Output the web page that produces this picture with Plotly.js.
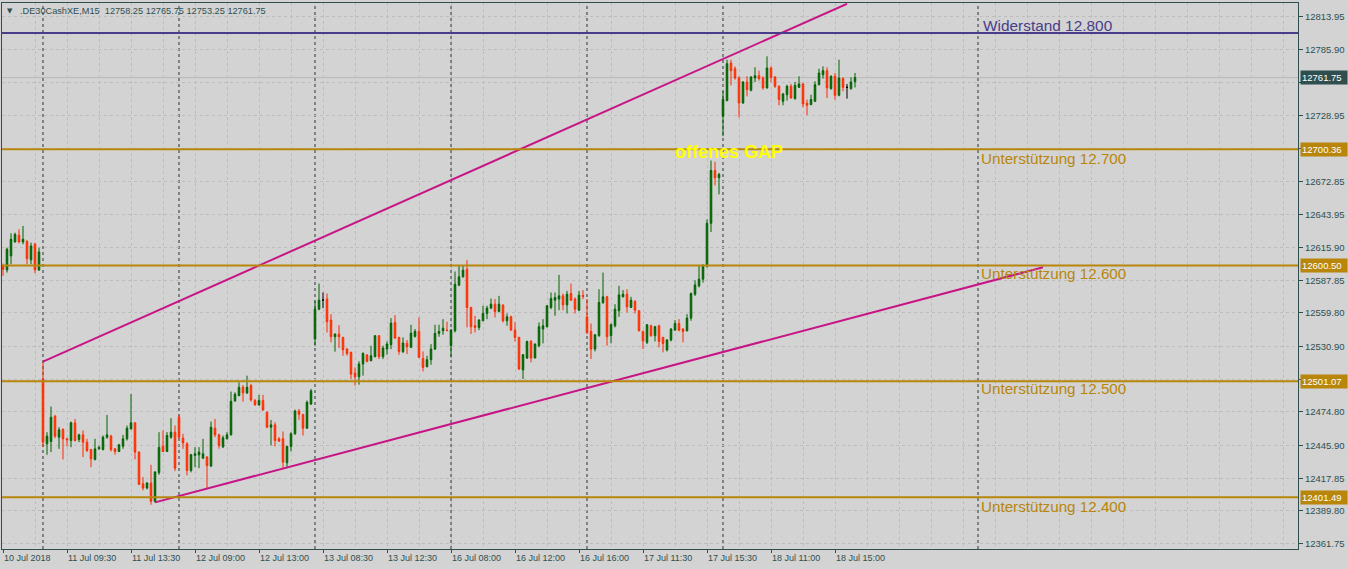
<!DOCTYPE html>
<html><head><meta charset="utf-8">
<script src="https://cdn.plot.ly/plotly-3.0.1.min.js"></script>
<style>html,body{margin:0;padding:0;background:#d3d3d3;}#chart{width:1348px;height:569px;}</style>
</head><body><div id="chart"></div>
<script>
// ---- candle data (M15 bars, index 0 = 10 Jul 14:00) ----
const openP = [12600.1,12596.7,12608.7,12620.7,12626.4,12620.7,12621.0,12605.3,12618.7,12596.7,
12502.5,12447.4,12449.4,12471.1,12453.1,12459.7,12451.7,12450.2,12465.4,12451.1,
12455.1,12448.8,12442.5,12434.0,12443.1,12442.5,12453.1,12454.0,12443.1,12440.8,
12445.4,12451.7,12460.2,12465.4,12440.3,12413.1,12409.4,12413.7,12398.0,12422.6,
12445.4,12440.8,12453.1,12457.4,12470.2,12452.2,12447.4,12424.5,12437.4,12437.9,
12435.1,12436.0,12428.3,12460.8,12455.1,12444.8,12451.7,12455.1,12484.2,12488.8,
12495.9,12491.1,12497.4,12484.5,12480.8,12484.5,12474.5,12461.7,12463.7,12451.7,
12451.7,12431.1,12445.1,12456.0,12475.6,12472.5,12460.8,12481.6,12537.3,12563.0,
12570.7,12571.6,12553.6,12539.3,12541.6,12538.7,12528.7,12525.9,12508.2,12505.0,
12515.9,12523.6,12518.8,12522.2,12540.2,12522.2,12528.7,12532.5,12551.6,12538.7,
12526.5,12533.6,12530.2,12539.6,12543.9,12520.7,12513.6,12519.6,12528.7,12542.2,
12544.4,12545.0,12531.6,12544.4,12583.6,12590.7,12597.3,12564.4,12548.7,12547.3,
12553.0,12559.3,12563.9,12567.3,12561.0,12566.4,12553.0,12556.4,12545.0,12538.7,
12510.8,12521.0,12535.3,12521.0,12531.6,12545.9,12547.9,12564.4,12570.7,12571.6,
12574.4,12566.7,12576.4,12571.6,12562.1,12574.7,12556.4,12543.9,12528.7,12540.2,
12568.7,12573.6,12540.2,12548.7,12561.6,12573.6,12575.8,12564.4,12569.6,12561.6,
12543.9,12534.5,12548.7,12540.2,12548.7,12538.7,12527.9,12536.5,12545.0,12550.7,
12545.9,12544.4,12555.3,12575.8,12583.0,12588.7,12600.1,12636.7,12682.0,12675.8,
12728.6,12742.0,12774.3,12769.4,12761.4,12740.0,12758.0,12750.9,12761.4,12763.4,
12761.4,12752.9,12770.0,12762.3,12754.3,12741.4,12747.1,12754.3,12743.7,12753.4,
12756.3,12739.7,12738.6,12741.4,12755.7,12764.3,12767.7,12752.3,12762.9,12746.6,
12760.9,12753.4,12752.3,12758.25];
const highP = [12602.1,12615.8,12628.1,12628.7,12631.5,12634.4,12622.4,12620.1,12620.1,12615.8,
12517.9,12457.4,12479.4,12472.2,12461.7,12460.8,12452.5,12466.5,12468.8,12456.0,
12458.8,12451.7,12443.1,12451.7,12445.9,12454.5,12472.2,12455.1,12443.7,12447.4,
12455.1,12463.1,12490.2,12465.9,12440.8,12418.8,12414.6,12429.4,12424.0,12457.4,
12458.8,12457.4,12469.4,12463.1,12472.2,12456.0,12448.8,12438.8,12444.5,12444.5,
12451.7,12436.9,12466.5,12468.8,12456.0,12454.5,12457.4,12492.2,12491.6,12500.2,
12497.9,12505.9,12498.8,12485.9,12489.4,12489.4,12475.1,12467.9,12465.9,12453.1,
12458.0,12445.9,12457.4,12476.7,12477.3,12473.1,12484.5,12494.5,12570.1,12585.0,
12577.3,12576.4,12558.7,12542.2,12549.3,12539.3,12529.6,12526.5,12513.0,12518.2,
12525.9,12524.4,12531.6,12540.7,12540.7,12531.6,12535.3,12555.3,12557.9,12539.3,
12538.7,12536.5,12549.6,12545.9,12555.9,12526.7,12523.0,12533.0,12549.6,12549.6,
12554.4,12552.2,12545.9,12595.3,12600.1,12600.1,12605.0,12565.0,12557.3,12554.4,
12565.9,12565.9,12572.1,12571.6,12574.4,12567.3,12559.3,12557.3,12551.6,12539.3,
12524.4,12535.9,12536.5,12533.6,12551.6,12554.4,12566.4,12577.3,12577.3,12592.4,
12576.4,12578.7,12585.0,12573.0,12578.7,12579.3,12571.6,12550.7,12541.6,12580.1,
12594.4,12574.4,12550.7,12567.3,12583.0,12579.3,12580.1,12573.6,12570.7,12562.1,
12544.4,12550.2,12549.6,12548.7,12549.6,12539.3,12537.3,12546.7,12553.6,12554.4,
12546.7,12558.7,12577.3,12587.8,12600.1,12601.6,12640.1,12690.6,12689.5,12680.0,
12750.0,12777.1,12777.1,12771.4,12762.9,12758.6,12762.9,12762.9,12770.6,12767.7,
12762.9,12780.0,12771.4,12762.9,12755.1,12748.6,12755.7,12756.3,12758.0,12762.9,
12757.1,12742.9,12747.1,12758.6,12769.4,12771.4,12770.6,12763.7,12765.7,12777.1,
12762.0,12756.3,12762.0,12765.75];
const lowP = [12591.6,12594.4,12601.6,12620.1,12619.5,12618.7,12601.6,12601.6,12593.9,12595.8,
12444.5,12438.0,12440.3,12452.2,12443.1,12434.0,12445.1,12444.5,12449.4,12448.8,
12436.0,12440.3,12427.4,12433.1,12442.5,12441.7,12451.7,12440.8,12438.0,12440.3,
12443.1,12450.2,12459.7,12434.0,12412.0,12407.4,12408.3,12395.1,12396.9,12420.8,
12440.3,12440.3,12451.7,12424.0,12451.7,12443.1,12420.3,12422.9,12427.4,12426.5,
12434.5,12409.4,12427.4,12453.1,12443.1,12443.7,12451.1,12454.5,12483.6,12488.2,
12483.6,12490.2,12483.6,12480.2,12480.2,12475.9,12460.8,12445.9,12445.1,12449.1,
12426.5,12426.5,12440.8,12455.1,12467.9,12454.5,12460.2,12480.8,12531.6,12562.1,
12563.9,12543.0,12534.5,12526.5,12529.6,12523.0,12523.0,12503.0,12497.3,12498.2,
12505.9,12517.3,12518.2,12521.6,12520.2,12520.2,12523.9,12528.7,12537.3,12523.9,
12525.3,12524.4,12529.6,12538.7,12521.0,12509.6,12513.0,12515.3,12527.9,12539.3,
12541.0,12543.9,12521.6,12543.0,12582.7,12590.1,12547.3,12541.6,12543.0,12545.0,
12553.0,12554.4,12563.0,12555.9,12560.1,12551.6,12548.7,12544.4,12535.3,12510.8,
12503.0,12520.2,12517.3,12521.0,12530.2,12533.6,12547.3,12563.0,12557.3,12562.1,
12562.1,12559.3,12570.1,12559.3,12561.6,12571.6,12541.6,12520.2,12526.7,12539.3,
12567.3,12531.6,12533.6,12547.3,12556.4,12573.0,12560.1,12564.0,12559.3,12543.9,
12528.7,12533.0,12539.3,12535.3,12530.2,12525.9,12526.7,12535.3,12544.4,12543.9,
12534.5,12543.9,12553.0,12574.4,12581.6,12585.8,12598.7,12629.2,12669.2,12661.5,
12711.5,12741.4,12755.1,12760.0,12727.7,12739.2,12745.7,12750.0,12758.0,12759.2,
12751.4,12752.3,12758.0,12752.9,12738.0,12738.0,12742.0,12743.7,12742.9,12752.9,
12736.3,12729.5,12738.0,12740.8,12755.1,12760.9,12744.3,12751.4,12742.9,12745.7,
12750.0,12743.7,12751.4,12753.25];
const closeP = [12597.3,12614.4,12623.0,12627.2,12620.7,12623.0,12606.4,12617.3,12596.7,12612.1,
12448.8,12454.0,12470.2,12454.0,12459.4,12451.7,12450.9,12465.4,12450.2,12455.1,
12448.8,12441.7,12434.5,12443.1,12444.3,12453.1,12455.1,12442.5,12440.8,12446.5,
12451.7,12460.8,12465.4,12440.3,12412.6,12409.4,12413.7,12398.0,12423.1,12444.3,
12440.8,12454.5,12457.4,12426.5,12453.1,12448.2,12424.5,12438.0,12438.8,12440.3,
12438.8,12428.8,12461.7,12455.1,12445.9,12452.5,12455.1,12483.9,12489.9,12495.9,
12491.1,12495.9,12485.1,12480.8,12484.5,12476.5,12461.7,12463.7,12450.2,12449.7,
12431.7,12445.1,12456.0,12475.6,12472.8,12460.8,12483.1,12492.8,12563.0,12570.7,
12570.7,12552.2,12539.3,12541.6,12539.3,12528.2,12525.0,12507.3,12505.0,12515.9,
12525.0,12518.2,12523.0,12540.2,12522.2,12529.6,12533.0,12551.0,12538.2,12526.7,
12533.9,12530.7,12542.4,12543.9,12521.6,12513.0,12519.6,12528.7,12542.2,12543.9,
12546.7,12544.7,12545.0,12584.4,12590.7,12596.4,12564.4,12547.9,12547.3,12553.6,
12559.3,12563.9,12567.3,12561.0,12567.3,12553.0,12556.4,12545.0,12538.7,12511.6,
12523.9,12535.3,12521.0,12533.0,12547.9,12548.7,12565.9,12572.1,12573.0,12574.4,
12566.7,12575.8,12570.7,12563.0,12575.0,12574.1,12543.0,12528.7,12541.0,12568.7,
12573.6,12539.3,12549.6,12563.0,12575.3,12575.8,12565.0,12570.7,12562.1,12544.4,
12535.9,12549.6,12540.2,12547.9,12535.3,12533.6,12536.5,12545.9,12550.7,12545.0,
12543.9,12555.3,12576.4,12583.8,12588.7,12600.1,12636.7,12682.0,12675.8,12678.6,
12742.9,12773.7,12767.7,12761.4,12740.0,12758.0,12751.4,12762.3,12763.4,12760.9,
12752.9,12770.0,12762.0,12754.3,12742.9,12747.7,12754.3,12744.3,12755.1,12756.3,
12739.2,12738.0,12742.9,12755.7,12765.7,12767.7,12752.9,12762.9,12746.6,12761.4,
12753.4,12753.4,12758.0,12761.75];

// ---- axis labels ----
const xTickBars = [0,16,32,48,64,80,96,112,128,144,160,176,192,208];
const xTickLabels = ["10 Jul 2018","11 Jul 09:30","11 Jul 13:30","12 Jul 09:00","12 Jul 13:00","13 Jul 08:30","13 Jul 12:30","16 Jul 08:00","16 Jul 12:00","16 Jul 16:00","17 Jul 11:30","17 Jul 15:30","18 Jul 11:00","18 Jul 15:00"];
const yTickVals = [12813.95,12785.90,12757.85,12728.95,12700.90,12672.85,12643.95,12615.90,12587.85,12559.80,12530.90,12502.85,12474.80,12445.90,12417.85,12389.80,12361.75];
// labels hidden behind the price boxes on the right
const yTickHidden = [12757.85,12700.90,12502.85];
const separatorBars = [10,44,78,112,146,180,243.75];

// ---- drawn objects ----
const resistanceLevel = 12800;
const supportLevels = [12700.36,12600.50,12501.07,12401.49];
const bidPrice = 12761.75;
const upperTrendBars = [10,211];
const upperTrendPrices = [12517.9,12825.1];
const lowerTrendBars = [38,260];
const lowerTrendPrices = [12397.1,12598.95];
const levelTexts = ["Unterstützung 12.700","Unterstützung 12.600","Unterstützung 12.500","Unterstützung 12.400"];
const levelTextPrices = [12691.9,12594.0,12494.5,12394.0];
const resistanceText = "Widerstand 12.800";
const resistanceTextPrice = 12806.1;
const gapText = "offenes GAP";
const gapTextPrice = 12697.9;
const gapTextBar = 167.5;
const headerText = ".DE30CashXE,M15  12758.25 12765.75 12753.25 12761.75";

const BG = '#d3d3d3', AX = '#2f4f4f', GOLD = '#b8860b', GRID = '#bdbdbd';
const FONT = 'Liberation Sans, Arial, sans-serif';

const idx = openP.map((_, i) => i);
const reg = idx.filter(i => openP[i] !== closeP[i]);
const doj = idx.filter(i => openP[i] === closeP[i]);
const pick = (arr, sel) => sel.map(i => arr[i]);

const traces = [
  {type:'candlestick', x: reg, open: pick(openP,reg), high: pick(highP,reg), low: pick(lowP,reg), close: pick(closeP,reg),
   increasing:{line:{color:'#006400',width:1}, fillcolor:'#006400'},
   decreasing:{line:{color:'#ff2a00',width:1}, fillcolor:'#ff4500'},
   whiskerwidth:0, hoverinfo:'skip', showlegend:false},
  {type:'candlestick', x: doj, open: pick(openP,doj), high: pick(highP,doj), low: pick(lowP,doj), close: pick(closeP,doj),
   increasing:{line:{color:'#000000',width:1}, fillcolor:'#000000'},
   decreasing:{line:{color:'#000000',width:1}, fillcolor:'#000000'},
   whiskerwidth:0, hoverinfo:'skip', showlegend:false},
  {type:'scatter', mode:'lines', x: upperTrendBars, y: upperTrendPrices, line:{color:'#c71585', width:2}, hoverinfo:'skip', showlegend:false},
  {type:'scatter', mode:'lines', x: lowerTrendBars, y: lowerTrendPrices, line:{color:'#c71585', width:2}, hoverinfo:'skip', showlegend:false}
];

const shapes = [];
separatorBars.forEach(b => shapes.push({type:'line', xref:'x', yref:'paper', x0:b, x1:b, y0:0, y1:1, layer:'below', line:{color:'#253535', width:1, dash:'3px,3px'}}));
shapes.push({type:'line', xref:'paper', yref:'y', x0:0, x1:1, y0:bidPrice, y1:bidPrice, layer:'below', line:{color:'#bababa', width:1}});
shapes.push({type:'line', xref:'paper', yref:'y', x0:0, x1:1, y0:resistanceLevel, y1:resistanceLevel, layer:'above', line:{color:'#483d8b', width:2}});
supportLevels.forEach(p => shapes.push({type:'line', xref:'paper', yref:'y', x0:0, x1:1, y0:p, y1:p, layer:'above', line:{color:GOLD, width:2}}));

const annotations = [];
const priceBox = (p, bg) => ({xref:'paper', yref:'y', x:1, y:p, xanchor:'left', yanchor:'middle', xshift:2, showarrow:false,
  text:p.toFixed(2), font:{family:FONT, size:9.5, color:'#ffffff'}, bgcolor:bg, borderpad:1, width:44, align:'left'});
supportLevels.forEach(p => annotations.push(priceBox(p, GOLD)));
annotations.push(priceBox(bidPrice, AX));
levelTexts.forEach((t, k) => annotations.push({xref:'paper', yref:'y', x:(979-2)/1296, y:levelTextPrices[k], xanchor:'left', yanchor:'middle', showarrow:false,
  text:t, font:{family:FONT, size:15.2, color:GOLD}}));
annotations.push({xref:'paper', yref:'y', x:(981-2)/1296, y:resistanceTextPrice, xanchor:'left', yanchor:'middle', showarrow:false,
  text:resistanceText, font:{family:FONT, size:15.4, color:'#483d8b'}});
annotations.push({xref:'x', yref:'y', x:gapTextBar, y:gapTextPrice, xanchor:'left', yanchor:'middle', showarrow:false,
  text:'<b>'+gapText+'</b>', font:{family:FONT, size:18, color:'#ffff00'}});
annotations.push({xref:'paper', yref:'paper', x:(18-2)/1296, y:1-8/546, xanchor:'left', yanchor:'middle', showarrow:false,
  text:headerText, font:{family:FONT, size:9.2, color:AX}});
annotations.push({xref:'paper', yref:'paper', x:(9.5-2)/1296, y:1-8/546, xanchor:'center', yanchor:'middle', showarrow:false,
  text:'▼', font:{family:'DejaVu Sans', size:7, color:AX}});

const layout = {
  width:1348, height:569,
  margin:{l:2, r:50, t:3, b:20, pad:0},
  paper_bgcolor:BG, plot_bgcolor:BG,
  font:{family:FONT, size:9, color:AX},
  showlegend:false,
  xaxis:{range:[-0.25, 323.75], rangeslider:{visible:false}, tickmode:'array', tickvals:xTickBars, ticktext:xTickLabels,
    ticks:'outside', ticklen:3, tickcolor:AX, ticklabelposition:'outside right',
    showgrid:true, gridcolor:GRID, griddash:'3px,3px', gridwidth:1,
    minor:{dtick:8, tick0:0, showgrid:true, gridcolor:GRID, griddash:'3px,3px', ticks:''},
    showline:true, linecolor:AX, linewidth:1, mirror:true, zeroline:false, fixedrange:true,
    tickfont:{family:FONT, size:9, color:AX}},
  yaxis:{range:[12357.1, 12825.8], side:'right', tickmode:'array', tickvals:yTickVals,
    ticktext:yTickVals.map(v => yTickHidden.includes(v) ? '' : v.toFixed(2)),
    ticks:'outside', ticklen:4, tickcolor:AX, showgrid:true, gridcolor:GRID, griddash:'3px,3px', gridwidth:1,
    showline:true, linecolor:AX, linewidth:1, mirror:true, zeroline:false, fixedrange:true,
    tickfont:{family:FONT, size:9.5, color:AX}},
  boxgap:0.45,
  shapes:shapes, annotations:annotations
};

Plotly.newPlot('chart', traces, layout, {displayModeBar:false, staticPlot:true});
</script></body></html>
